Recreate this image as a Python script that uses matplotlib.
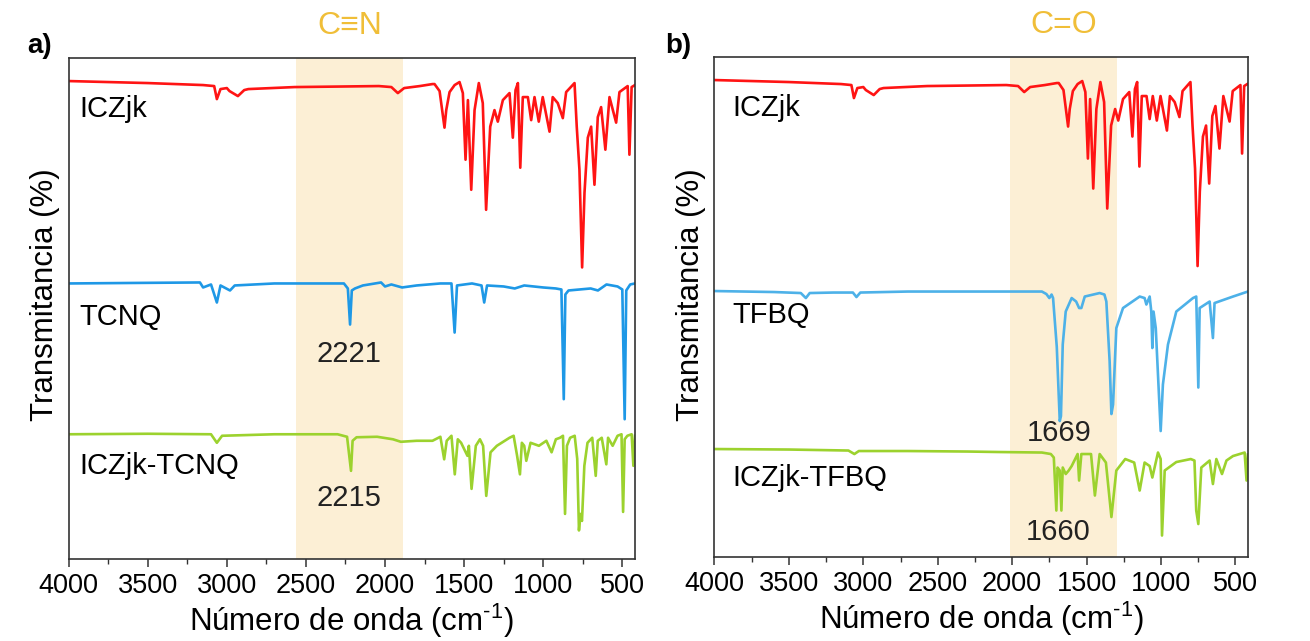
import matplotlib
matplotlib.use("Agg")
import matplotlib.pyplot as plt
from matplotlib.ticker import MultipleLocator

plt.rcParams['font.family'] = ['Liberation Sans', 'DejaVu Sans']
plt.rcParams['mathtext.fontset'] = 'custom'
plt.rcParams['mathtext.rm'] = 'Liberation Sans'
plt.rcParams['mathtext.it'] = 'Liberation Sans:italic'

# ---- data (wavenumber in cm-1, transmittance with offsets, arbitrary units) ----
icz_wn = [4000, 3500, 3150, 3080, 3063, 3040, 3000, 2983, 2930, 2890, 2864, 2571, 2300,
          2039, 1960, 1919, 1879, 1780, 1700, 1687, 1655, 1624, 1613, 1592, 1560, 1529,
          1508, 1491, 1476, 1455, 1434, 1407, 1382, 1361, 1335, 1308, 1287, 1255, 1213,
          1192, 1175, 1160, 1145, 1129, 1097, 1076, 1055, 1028, 1003, 960, 940, 908, 876,
          855, 802, 788, 771, 754, 739, 718, 697, 676, 655, 634, 607, 581, 539, 518, 466,
          455, 441, 420]
icz_t = [95.4, 95.0, 94.6, 94.4, 91.8, 93.8, 94.0, 93.4, 92.4, 93.6, 93.8, 94.2, 94.3,
         94.4, 94.2, 93.0, 94.0, 94.4, 94.8, 94.8, 93.4, 86.1, 89.6, 93.2, 94.6, 95.2,
         93.0, 79.7, 91.6, 73.7, 89.6, 95.0, 91.0, 69.7, 86.3, 89.6, 87.3, 91.6, 93.0,
         84.1, 93.6, 95.0, 78.1, 92.2, 92.2, 87.6, 92.2, 87.3, 92.2, 85.3, 92.2, 91.0, 88.0,
         93.2, 95.0, 86.3, 77.7, 58.2, 73.1, 84.1, 86.3, 74.7, 88.2, 90.2, 81.7, 92.2, 87.1,
         93.2, 94.4, 80.7, 94.2, 94.6]

tcnq_wn = [4000, 3600, 3170, 3150, 3100, 3063, 3040, 2980, 2950, 2700, 2400, 2260, 2235,
           2221, 2210, 2190, 2140, 2025, 2000, 1960, 1892, 1800, 1650, 1580, 1560, 1545,
           1450, 1390, 1373, 1355, 1250, 1180, 1120, 1000, 920, 885, 870, 860, 840, 700,
           654, 600, 530, 500, 485, 475, 450, 420]
tcnq_t = [55.0, 55.1, 55.2, 54.2, 54.8, 51.2, 54.6, 53.6, 54.6, 55.0, 55.0, 55.0, 54.0,
          46.8, 53.6, 54.0, 54.6, 55.2, 54.4, 54.8, 54.2, 54.6, 55.0, 55.0, 45.2, 54.6,
          55.0, 54.6, 51.2, 54.6, 54.4, 54.0, 54.6, 54.2, 54.0, 53.8, 31.9, 52.8, 53.6, 54.0,
          53.6, 54.8, 54.4, 53.8, 27.9, 53.6, 54.8, 55.0]

icz_tcnq_wn = [4000, 3500, 3100, 3063, 3030, 2700, 2300, 2240, 2215, 2205, 2180, 2050,
               1950, 1900, 1800, 1700, 1650, 1626, 1610, 1580, 1559, 1540, 1519, 1479,
               1470, 1453, 1426, 1400, 1380, 1360, 1333, 1293, 1213, 1187, 1165, 1147,
               1135, 1120, 1107, 1080, 1027, 980, 947, 920, 894, 875, 862, 850, 830, 801,
               785, 774, 765, 755, 740, 720, 690, 668, 655, 630, 601, 590, 561, 530, 505,
               495, 485, 468, 441, 430, 420]
icz_tcnq_t = [24.9, 25.0, 24.9, 23.2, 24.6, 24.9, 24.9, 24.4, 17.6, 23.6, 24.3, 24.4,
              23.9, 23.4, 23.6, 23.6, 24.4, 19.9, 23.6, 24.6, 16.9, 23.9, 23.2, 20.6,
              22.6, 14.0, 22.6, 23.9, 22.6, 12.6, 21.3, 22.6, 24.2, 24.6, 20.6, 16.9,
              23.2, 22.6, 19.6, 23.2, 22.6, 23.6, 21.3, 23.9, 24.2, 24.6, 9.0, 22.6, 24.2,
              24.6, 20.0, 5.7, 9.0, 7.6, 18.6, 23.2, 24.2, 16.6, 23.6, 24.2, 18.9, 24.2,
              22.6, 24.6, 24.9, 9.4, 23.9, 24.6, 24.9, 18.6, 24.6]

tfbq_wn = [4000, 3600, 3420, 3386, 3360, 3200, 3070, 3046, 3020, 2700, 2400, 2083, 1800,
           1770, 1750, 1735, 1725, 1700, 1680, 1672, 1660, 1640, 1600, 1570, 1550, 1535,
           1512, 1412, 1380, 1367, 1345, 1333, 1322, 1300, 1255, 1143, 1110, 1098, 1076,
           1065, 1058, 1050, 1035, 1002, 987, 953, 897, 785, 763, 749, 740, 673, 651, 640,
           516, 416]
tfbq_t = [53.2, 53.0, 52.8, 51.8, 52.8, 52.9, 52.9, 52.0, 52.9, 53.1, 53.1, 53.1, 53.1,
          52.6, 51.8, 52.5, 51.8, 42.0, 27.2, 28.2, 42.5, 49.1, 51.8, 51.1, 49.8, 49.8,
          52.1, 52.8, 52.5, 51.1, 39.2, 28.6, 30.5, 45.8, 49.8, 52.1, 51.8, 50.5, 52.1,
          49.1, 41.8, 49.1, 45.8, 25.2, 34.5, 42.5, 49.1, 51.8, 52.1, 33.9, 49.8, 51.1,
          43.8, 50.8, 52.1, 53.1]

icz_tfbq_wn = [4000, 3500, 3100, 3060, 3030, 2700, 2300, 2083, 1800, 1740, 1720, 1703,
               1695, 1680, 1669, 1660, 1640, 1620, 1600, 1560, 1550, 1535, 1470, 1444,
               1412, 1370, 1333, 1300, 1240, 1180, 1143, 1110, 1076, 1058, 1020, 1002, 993,
               975, 897, 800, 775, 763, 749, 729, 673, 651, 628, 590, 560, 516, 438, 425, 416]
icz_tfbq_t = [21.6, 21.5, 21.3, 20.6, 21.2, 21.2, 21.1, 21.0, 20.9, 20.6, 19.9, 9.3,
              17.9, 17.3, 9.3, 17.9, 16.6, 17.3, 18.2, 20.6, 15.3, 20.6, 20.6, 12.3,
              20.6, 18.9, 8.0, 17.3, 19.6, 18.9, 13.3, 18.9, 18.2, 15.9, 20.9, 19.6, 4.3,
              17.3, 19.0, 19.6, 19.3, 9.3, 6.6, 17.9, 19.3, 14.6, 19.6, 16.6, 19.3, 20.2,
              20.9, 15.3, 20.5]

band_cn = (2560, 1885)
band_co = (2016, 1298)

RED = '#FF1414'
BLUE_A = '#1E98E6'
BLUE_B = '#4DB1E8'
GREEN = '#9CD22E'
BAND = '#FCEFD5'
GOLD = '#F0BE38'
LW = 1.9

fig = plt.figure(figsize=(13.1, 6.41), dpi=100)
ax_a = fig.add_axes([0.0524, 0.1279, 0.4323, 0.7816])
ax_b = fig.add_axes([0.5454, 0.1310, 0.4073, 0.7800])


def style_axis(ax, xmin_right):
    ax.set_xlim(4000, xmin_right)
    ax.set_ylim(0, 100)
    ax.set_xticks([4000, 3500, 3000, 2500, 2000, 1500, 1000, 500])
    ax.xaxis.set_minor_locator(MultipleLocator(250))
    ax.set_yticks([])
    ax.tick_params(axis='x', which='major', direction='out', length=6, width=1.1,
                   labelsize=19.5, pad=4, color='#333333')
    ax.tick_params(axis='x', which='minor', direction='out', length=3.5, width=1.0,
                   color='#333333')
    for s in ax.spines.values():
        s.set_linewidth(1.2)
        s.set_color('#333333')
    ax.set_xlabel('Número de onda (cm$^{\\text{-}1}$)', fontsize=22.5, labelpad=2)


# panel a
ax = ax_a
ax.axvspan(*band_cn, color=BAND, lw=0, zorder=0)
ax.plot(icz_wn, icz_t, color=RED, lw=LW)
ax.plot(tcnq_wn, tcnq_t, color=BLUE_A, lw=LW)
ax.plot(icz_tcnq_wn, icz_tcnq_t, color=GREEN, lw=LW)
style_axis(ax, 420)
ax.text(3930, 88.2, 'ICZjk', fontsize=21)
ax.text(3930, 46.8, 'TCNQ', fontsize=21)
ax.text(3930, 17.0, 'ICZjk-TCNQ', fontsize=21)
ax.text(2225, 39.4, '2221', fontsize=21, ha='center', color='#222222')
ax.text(2225, 10.6, '2215', fontsize=21, ha='center', color='#222222')
ax.text(2222, 1.064, 'C≡N', fontsize=23, ha='center', va='center', color=GOLD,
        transform=ax.get_xaxis_transform())

# panel b
ax = ax_b
ax.axvspan(*band_co, color=BAND, lw=0, zorder=0)
ax.plot(icz_wn, icz_t, color=RED, lw=LW)
ax.plot(tfbq_wn, tfbq_t, color=BLUE_B, lw=LW)
ax.plot(icz_tfbq_wn, icz_tfbq_t, color=GREEN, lw=LW)
style_axis(ax, 415)
ax.text(3883, 88.2, 'ICZjk', fontsize=21)
ax.text(3883, 46.8, 'TFBQ', fontsize=21)
ax.text(3883, 14.3, 'ICZjk-TFBQ', fontsize=21)
ax.text(1687, 23.3, '1669', fontsize=21, ha='center', color='#222222')
ax.text(1690, 3.4, '1660', fontsize=21, ha='center', color='#222222')
ax.text(1657, 1.064, 'C=O', fontsize=23, ha='center', va='center', color=GOLD,
        transform=ax.get_xaxis_transform())

fig.text(0.0344, 0.540, 'Transmitancia (%)', rotation=90, fontsize=22.5,
         ha='center', va='center')
fig.text(0.5275, 0.540, 'Transmitancia (%)', rotation=90, fontsize=22.5,
         ha='center', va='center')
fig.text(0.0305, 0.928, 'a)', fontsize=20, fontweight='bold', ha='center', va='center')
fig.text(0.5176, 0.928, 'b)', fontsize=20, fontweight='bold', ha='center', va='center')

fig.savefig('out.png', dpi=100)
